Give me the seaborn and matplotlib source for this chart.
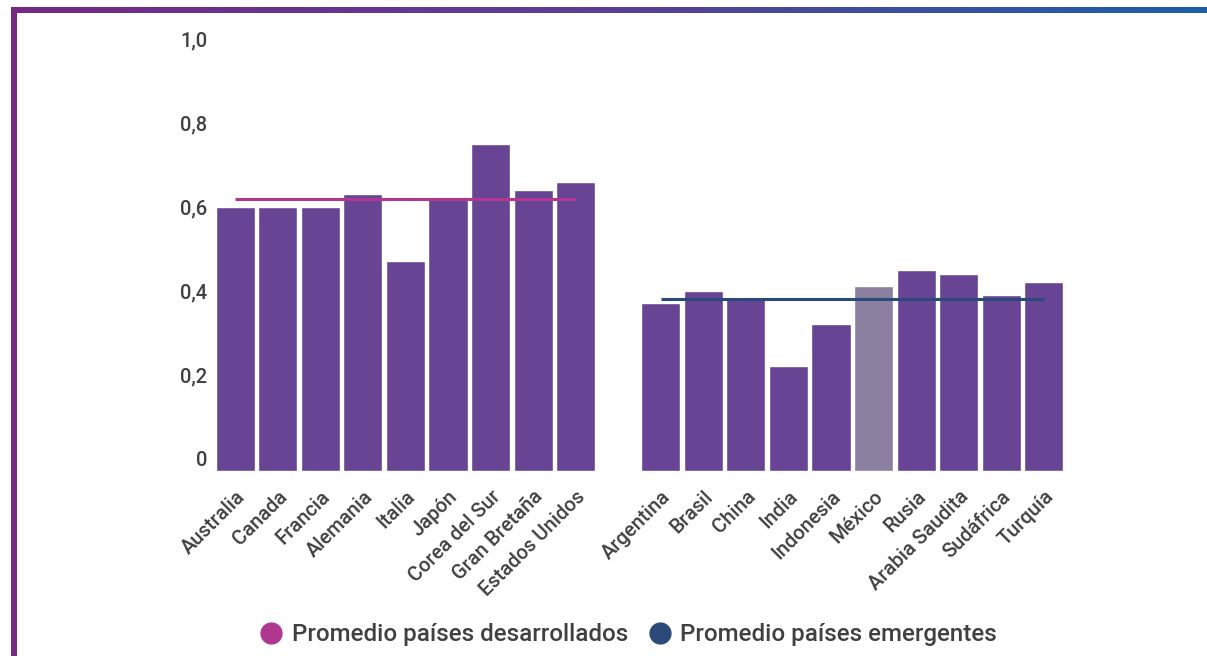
import numpy as np
import pandas as pd
import matplotlib
matplotlib.use("Agg")
import matplotlib.pyplot as plt
from matplotlib.lines import Line2D
import seaborn as sns

# ---- data ----
developed = ["Australia", "Canada", "Francia", "Alemania", "Italia", "Japón",
             "Corea del Sur", "Gran Bretaña", "Estados Unidos"]
developed_vals = [0.60, 0.60, 0.60, 0.63, 0.47, 0.62, 0.75, 0.64, 0.66]
emerging = ["Argentina", "Brasil", "China", "India", "Indonesia", "México",
            "Rusia", "Arabia Saudita", "Sudáfrica", "Turquía"]
emerging_vals = [0.37, 0.40, 0.38, 0.22, 0.32, 0.41, 0.45, 0.44, 0.39, 0.42]
yticks = [0, 0.2, 0.4, 0.6, 0.8, 1.0]
ytick_labels = ["0", "0,2", "0,4", "0,6", "0,8", "1,0"]
legend_labels = ["Promedio países desarrollados", "Promedio países emergentes"]
highlight = "México"

# ---- styles ----
BAR = "#674594"
HIGHLIGHT = "#8b809f"
DEV_LINE = "#b0378f"
EM_LINE = "#2b4a7a"
TXT = "#404040"
YMIN = -0.029

sns.set_theme(style="white")
plt.rcParams["font.family"] = ["Roboto", "DejaVu Sans"]

df = pd.DataFrame({"pais": developed + emerging,
                   "valor": developed_vals + emerging_vals})
order = developed + [" "] + emerging
palette = {p: (HIGHLIGHT if p == highlight else BAR) for p in df["pais"]}

fig = plt.figure(figsize=(12.07, 6.56), dpi=100)
ax = fig.add_axes([214 / 1207, 1 - 470.5 / 656, (1065 - 214) / 1207, (470.5 - 39) / 656])

sns.barplot(data=df, x="pais", y="valor", hue="pais", order=order, hue_order=list(df["pais"]),
            palette=palette, legend=False, width=0.92, saturation=1, ax=ax, errorbar=None)

# bars extend down to the bottom of the plot area
for p in ax.patches:
    h = p.get_height()
    p.set_y(YMIN)
    p.set_height(h - YMIN)

ax.set_ylim(YMIN, 1.0)
ax.set_xlim(-0.5, len(order) - 0.5)

# average lines
dev_mean = float(np.mean(developed_vals))
em_mean = float(np.mean(emerging_vals))
n_dev = len(developed)
ax.plot([0, n_dev - 1], [dev_mean, dev_mean], color=DEV_LINE, lw=2.2, solid_capstyle="butt")
ax.plot([n_dev + 1, len(order) - 1], [em_mean, em_mean], color=EM_LINE, lw=2.2, solid_capstyle="butt")

ax.set_yticks(yticks)
ax.set_yticklabels(ytick_labels, fontsize=14.5, color=TXT, fontweight="medium")
ax.set_xticks(range(len(order)))
ax.set_xticklabels(order, rotation=45, ha="right", rotation_mode="anchor", fontsize=14.5,
                   color=TXT, fontweight="medium")
ax.tick_params(axis="y", length=0, pad=5)
ax.tick_params(axis="x", length=0, pad=12)
ax.set_xlabel("")
ax.set_ylabel("")
for s in ax.spines.values():
    s.set_visible(False)
ax.grid(False)

# legend
handles = [Line2D([], [], marker="o", ls="", markersize=15, color=DEV_LINE),
           Line2D([], [], marker="o", ls="", markersize=15, color=EM_LINE)]
fig.legend(handles, legend_labels, loc="center", bbox_to_anchor=(628 / 1207, 1 - 635 / 656),
           ncol=2, frameon=False, prop={"size": 17.4, "weight": "medium"}, labelcolor=TXT,
           handletextpad=0.35, columnspacing=0.8, handlelength=1.0)

# frame: gradient top bar and left bar
grad = np.linspace(0, 1, 512).reshape(1, -1)
cmap = matplotlib.colors.LinearSegmentedColormap.from_list("g", ["#742a86", "#5a3f96", "#1d5fa9"])
gax = fig.add_axes([11 / 1207, 1 - 13 / 656, (1207 - 11) / 1207, 6 / 656])
gax.imshow(grad, aspect="auto", cmap=cmap)
gax.axis("off")
lax = fig.add_axes([11 / 1207, 0, 6 / 1207, 1 - 8 / 656])
lax.set_facecolor("#742a86")
lax.set_xticks([]); lax.set_yticks([])
for s in lax.spines.values():
    s.set_visible(False)

fig.savefig("out.png", dpi=100)
